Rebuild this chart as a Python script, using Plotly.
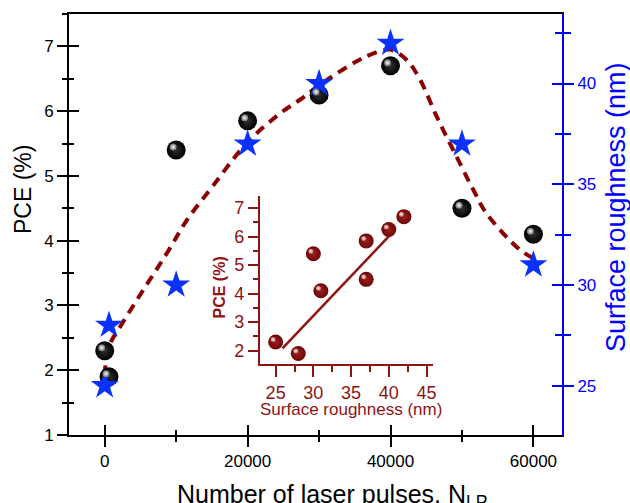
import plotly.graph_objects as go

# ---- data ----
pulses = [0, 600, 10000, 20000, 30000, 40000, 50000, 60000]
pce = [2.3, 1.9, 5.4, 5.85, 6.25, 6.7, 4.5, 4.1]
roughness = [25, 28, 30, 37, 40, 42, 37, 31]

curve_x = [0, 560, 2430, 5690, 8720, 11520, 15240, 19900, 24590, 27380, 30150,
           35270, 37140, 39930, 42260, 44120, 46450, 48780, 51570, 53440, 58100, 60000]
curve_y = [1.92, 2.36, 2.72, 3.29, 3.81, 4.32, 4.86, 5.51, 5.97, 6.18, 6.41,
           6.77, 6.87, 6.95, 6.79, 6.49, 5.92, 5.40, 4.79, 4.42, 3.86, 3.73]

fit_x = [25.9, 40.4]
fit_y = [2.08, 6.12]

x_ticks = [0, 20000, 40000, 60000]
x_ticktext = ["0", "20000", "40000", "60000"]
y_ticks = [1, 2, 3, 4, 5, 6, 7]
y2_ticks = [25, 30, 35, 40]
inset_x_ticks = [25, 30, 35, 40, 45]
inset_y_ticks = [2, 3, 4, 5, 6, 7]

FONT = "Arial, Liberation Sans, sans-serif"
DRED = "#8B0000"
IRED = "#8E1414"
BLUE = "#0000FF"
STAR = "#0A32FF"

XR = [-5000, 64000]
YR = [1, 7.5]
Y2R = [22.55, 43.45]
IXR = [22.9, 45.9]
IYR = [1.52, 7.43]

# small axis-range offsets (a few pixels) that place the specular highlight of each sphere
PLOT_W, PLOT_H = 493.0, 421.0
hx = 3.0 * (XR[1] - XR[0]) / PLOT_W
hy = 3.0 * (YR[1] - YR[0]) / PLOT_H
ihx = 2.5 * (IXR[1] - IXR[0]) / (PLOT_W * 0.352)
ihy = 2.5 * (IYR[1] - IYR[0]) / (PLOT_H * 0.40)

fig = go.Figure()

# dashed guide curve
fig.add_trace(go.Scatter(x=curve_x, y=curve_y, mode="lines", line_shape="spline",
                         line=dict(color=DRED, width=4, dash="10px,7px"),
                         xaxis="x", yaxis="y", hoverinfo="skip", showlegend=False))
# PCE spheres
fig.add_trace(go.Scatter(x=pulses, y=pce, mode="markers",
                         marker=dict(size=19, color="black",
                                     gradient=dict(type="radial", color="#303030")),
                         xaxis="x", yaxis="y", showlegend=False))
fig.add_trace(go.Scatter(x=pulses, y=pce, mode="markers",
                         marker=dict(size=7, color="rgba(120,120,120,0.9)",
                                     gradient=dict(type="radial", color="white")),
                         xaxis="x5", yaxis="y6", hoverinfo="skip", showlegend=False))
# roughness stars
fig.add_trace(go.Scatter(x=pulses, y=roughness, mode="markers",
                         marker=dict(symbol="star", size=21, color=STAR, line=dict(width=0)),
                         xaxis="x", yaxis="y2", showlegend=False))
# empty traces binding the tick-overlay axes
for xa, ya in [("x4", "y"), ("x", "y4"), ("x", "y5")]:
    fig.add_trace(go.Scatter(x=[None], y=[None], xaxis=xa, yaxis=ya,
                             showlegend=False, hoverinfo="skip"))

# inset
fig.add_trace(go.Scatter(x=fit_x, y=fit_y, mode="lines",
                         line=dict(color=IRED, width=2.5),
                         xaxis="x3", yaxis="y3", showlegend=False))
fig.add_trace(go.Scatter(x=roughness, y=pce, mode="markers",
                         marker=dict(size=15, color="#700606",
                                     gradient=dict(type="radial", color="#982020")),
                         xaxis="x3", yaxis="y3", showlegend=False))
fig.add_trace(go.Scatter(x=roughness, y=pce, mode="markers",
                         marker=dict(size=5, color="rgba(200,120,120,0.9)",
                                     gradient=dict(type="radial", color="#fff0f0")),
                         xaxis="x6", yaxis="y7", hoverinfo="skip", showlegend=False))

common = dict(showgrid=False, zeroline=False)
hidden = dict(visible=False, showgrid=False, zeroline=False)

fig.update_layout(
    width=630, height=503,
    margin=dict(l=69, r=68, t=14, b=68),
    paper_bgcolor="white", plot_bgcolor="rgba(0,0,0,0)",
    font=dict(family=FONT, size=17, color="black"),
    xaxis=dict(domain=[0, 1], anchor="y", range=XR, tickvals=x_ticks, ticktext=x_ticktext,
               ticks="outside", ticklen=10, tickwidth=2, tickcolor="black",
               minor=dict(dtick=10000, tick0=0, ticks="outside", ticklen=5,
                          tickwidth=2, tickcolor="black"),
               showline=True, linewidth=2, linecolor="black", mirror=True,
               tickfont=dict(size=17), **common),
    xaxis4=dict(overlaying="x", anchor="y", side="bottom", range=XR, tickvals=x_ticks,
                ticks="inside", ticklen=10, tickwidth=2, tickcolor="black",
                minor=dict(dtick=10000, tick0=0, ticks="inside", ticklen=5,
                           tickwidth=2, tickcolor="black"),
                showticklabels=False, showline=False, **common),
    xaxis5=dict(overlaying="x", anchor="y", range=[XR[0] + hx, XR[1] + hx], **hidden),
    yaxis=dict(domain=[0, 1], anchor="x", range=YR, tickvals=y_ticks,
               ticks="outside", ticklen=10, tickwidth=2, tickcolor="black",
               minor=dict(dtick=0.5, tick0=1, ticks="outside", ticklen=5,
                          tickwidth=2, tickcolor="black"),
               showline=True, linewidth=2, linecolor="black",
               tickfont=dict(size=17), **common),
    yaxis4=dict(overlaying="y", anchor="x", side="left", range=YR, tickvals=y_ticks,
                ticks="inside", ticklen=10, tickwidth=2, tickcolor="black",
                minor=dict(dtick=0.5, tick0=1, ticks="inside", ticklen=5,
                           tickwidth=2, tickcolor="black"),
                showticklabels=False, showline=False, **common),
    yaxis6=dict(overlaying="y", anchor="x", range=[YR[0] - hy, YR[1] - hy], **hidden),
    yaxis2=dict(overlaying="y", anchor="x", side="right", range=Y2R, tickvals=y2_ticks,
                ticks="outside", ticklen=10, tickwidth=2, tickcolor=BLUE,
                minor=dict(dtick=2.5, tick0=25, ticks="outside", ticklen=7,
                           tickwidth=2, tickcolor=BLUE),
                showline=True, linewidth=2, linecolor=BLUE,
                tickfont=dict(size=17, color=BLUE), **common),
    yaxis5=dict(overlaying="y", anchor="x", side="right", range=Y2R, tickvals=y2_ticks,
                ticks="inside", ticklen=10, tickwidth=2, tickcolor=BLUE,
                minor=dict(dtick=2.5, tick0=25, ticks="inside", ticklen=7,
                           tickwidth=2, tickcolor=BLUE),
                showticklabels=False, showline=False, **common),
    xaxis3=dict(domain=[0.387, 0.739], anchor="y3", range=IXR,
                tickvals=inset_x_ticks, ticks="outside", ticklen=11, tickwidth=2,
                tickcolor=IRED,
                minor=dict(dtick=2.5, tick0=25, ticks="outside", ticklen=6,
                           tickwidth=2, tickcolor=IRED),
                showline=True, linewidth=2, linecolor=IRED,
                tickfont=dict(size=18, color=IRED), **common),
    xaxis6=dict(overlaying="x3", anchor="y3", range=[IXR[0] + ihx, IXR[1] + ihx], **hidden),
    yaxis3=dict(domain=[0.168, 0.568], anchor="x3", range=IYR,
                tickvals=inset_y_ticks, ticks="outside", ticklen=10, tickwidth=2,
                tickcolor=IRED,
                minor=dict(dtick=0.5, tick0=2, ticks="outside", ticklen=5,
                           tickwidth=2, tickcolor=IRED),
                showline=True, linewidth=2, linecolor=IRED,
                tickfont=dict(size=18, color=IRED), **common),
    yaxis7=dict(overlaying="y3", anchor="x3", range=[IYR[0] - ihy, IYR[1] - ihy], **hidden),
    annotations=[
        dict(text="PCE (%)", xref="paper", yref="paper", x=-0.0933, y=0.582,
             textangle=-90, showarrow=False, xanchor="center", yanchor="middle",
             font=dict(size=23, color="black")),
        dict(text="Surface roughness (nm)", xref="paper", yref="paper", x=1.1085, y=0.5425,
             textangle=-90, showarrow=False, xanchor="center", yanchor="middle",
             font=dict(size=27, color=BLUE)),
        dict(text="Number of laser pulses, N<sub>LP</sub>", xref="paper", yref="paper",
             x=0.5335, y=-0.145, showarrow=False, xanchor="center", yanchor="middle",
             font=dict(size=25, color="black")),
        dict(text="Surface roughness (nm)", xref="paper", yref="paper", x=0.5716, y=0.061,
             showarrow=False, xanchor="center", yanchor="middle",
             font=dict(size=17, color=IRED)),
        dict(text="<b>PCE (%)</b>", xref="paper", yref="paper", x=0.3043, y=0.3504,
             textangle=-90, showarrow=False, xanchor="center", yanchor="middle",
             font=dict(size=16, color=IRED)),
    ],
)

fig.write_html("out.html")
